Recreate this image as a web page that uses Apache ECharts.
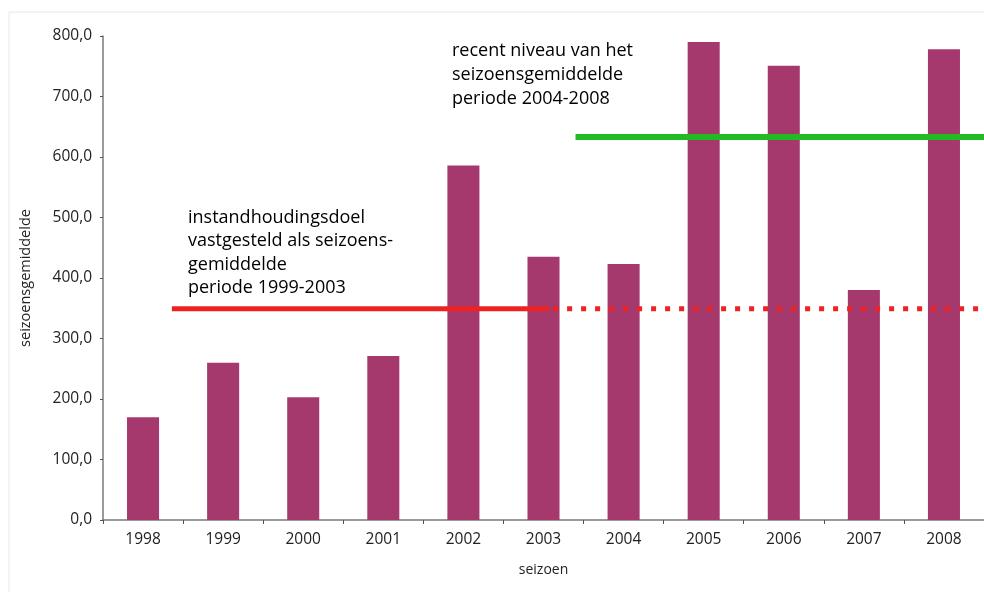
<!DOCTYPE html>
<html>
<head>
<meta charset="utf-8">
<script src="https://cdn.jsdelivr.net/npm/echarts@6/dist/echarts.min.js"></script>
<style>
html,body{margin:0;padding:0;background:#fff;}
#chart{width:984px;height:592px;}
</style>
</head>
<body>
<div id="chart"></div>
<script>
var seasons = ['1998','1999','2000','2001','2002','2003','2004','2005','2006','2007','2008'];
var seasonAverages = [170, 260, 203, 271, 586, 435, 423, 790, 751, 380, 778];
// reference levels
var targetLevel = 349;   // instandhoudingsdoel 1999-2003
var recentLevel = 633;   // recent niveau 2004-2008
// line extents on a continuous helper axis (category i spans i..i+1)
var targetSolidRange = [0.86, 5.57];
var targetDottedRange = [5.57, 11];
var recentRange = [5.9, 11];
var yTicks = [0, 800, 100];

var chart = echarts.init(document.getElementById('chart'));
var font = '"Open Sans", "Noto Sans", sans-serif';

chart.setOption({
  animation: false,
  backgroundColor: '#ffffff',
  grid: { left: 103, top: 36, width: 883, height: 484, containLabel: false },
  xAxis: [{
    type: 'category',
    data: seasons,
    boundaryGap: true,
    name: 'seizoen',
    nameLocation: 'middle',
    nameGap: 43,
    nameTextStyle: { color: '#222', fontSize: 14, fontFamily: font },
    axisLine: { show: true, lineStyle: { color: '#7a7a7a', width: 1.5 } },
    axisTick: { show: true, length: 4, lineStyle: { color: '#555' } },
    axisLabel: { color: '#222', fontSize: 15.5, fontFamily: font, margin: 12 },
    splitLine: { show: false }
  }, {
    type: 'value',
    min: 0, max: 11,
    show: false
  }],
  yAxis: {
    type: 'value',
    min: yTicks[0], max: yTicks[1], interval: yTicks[2],
    name: 'seizoensgemiddelde',
    nameLocation: 'middle',
    nameGap: 70,
    nameRotate: 90,
    nameTextStyle: { color: '#222', fontSize: 14.5, fontFamily: font },
    axisLine: { show: true, lineStyle: { color: '#7a7a7a', width: 1.5 } },
    axisTick: { show: true, length: 3, lineStyle: { color: '#555' } },
    axisLabel: {
      color: '#222', fontSize: 15.5, fontFamily: font, margin: 11,
      formatter: function (v) { return v.toFixed(1).replace('.', ','); }
    },
    splitLine: { show: false }
  },
  series: [{
    type: 'bar',
    data: seasonAverages,
    barWidth: '40%',
    itemStyle: { color: '#a5386c' },
    z: 2
  }, {
    type: 'line',
    xAxisIndex: 1,
    data: [[targetSolidRange[0], targetLevel], [targetSolidRange[1], targetLevel]],
    symbol: 'none',
    lineStyle: { color: '#ee2222', width: 5, cap: 'butt' },
    z: 5
  }, {
    type: 'line',
    xAxisIndex: 1,
    data: [[targetDottedRange[0], targetLevel], [targetDottedRange[1], targetLevel]],
    symbol: 'none',
    lineStyle: { color: '#ee2222', width: 5, type: [5, 9], dashOffset: -4, cap: 'butt' },
    z: 5
  }, {
    type: 'line',
    xAxisIndex: 1,
    data: [[recentRange[0], recentLevel], [recentRange[1], recentLevel]],
    symbol: 'none',
    lineStyle: { color: '#22bb22', width: 6, cap: 'butt' },
    z: 5
  }],
  graphic: [{
    type: 'rect',
    shape: { x: 9, y: 12, width: 1000, height: 620 },
    style: { fill: 'none', stroke: '#e8e8e8', lineWidth: 1 },
    silent: true, z: -1
  }, {
    type: 'text',
    left: 188, top: 206,
    style: {
      text: 'instandhoudingsdoel\nvastgesteld als seizoens-\ngemiddelde\nperiode 1999-2003',
      fill: '#000', fontSize: 18, fontFamily: font, lineHeight: 23.5
    },
    z: 10
  }, {
    type: 'text',
    left: 452, top: 39,
    style: {
      text: 'recent niveau van het\nseizoensgemiddelde\nperiode 2004-2008',
      fill: '#000', fontSize: 18, fontFamily: font, lineHeight: 24
    },
    z: 10
  }]
});
</script>
</body>
</html>
